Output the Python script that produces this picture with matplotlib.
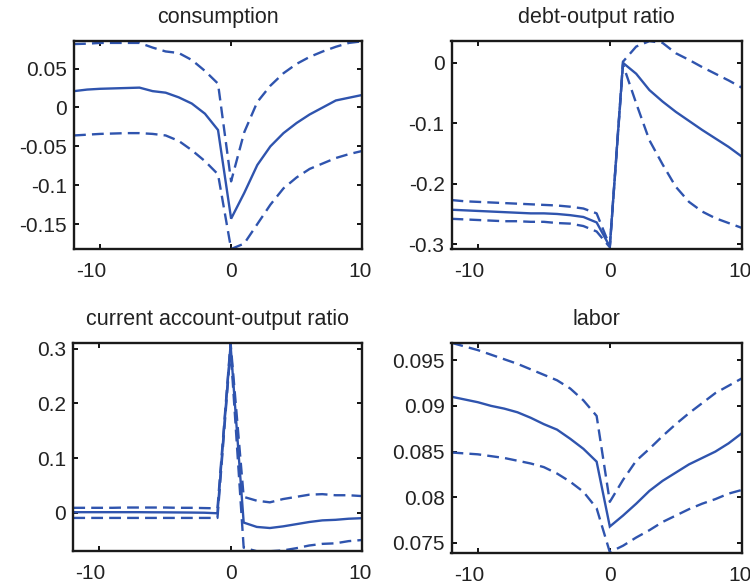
import matplotlib
matplotlib.use("Agg")
import matplotlib.pyplot as plt
from matplotlib.ticker import FuncFormatter
from matplotlib.transforms import ScaledTranslation

plt.rcParams['font.family'] = ['Liberation Sans', 'DejaVu Sans']
plt.rcParams['axes.unicode_minus'] = False

x = list(range(-12, 11))

titles = ["consumption", "debt-output ratio", "current account-output ratio", "labor"]

cons_mid = [0.021, 0.023, 0.024, 0.0245, 0.025, 0.0255, 0.021, 0.019, 0.013, 0.005, -0.008, -0.029,
            -0.143, -0.11, -0.074, -0.05, -0.033, -0.02, -0.009, 0.0, 0.009, 0.0125, 0.016]
cons_hi = [0.0815, 0.082, 0.083, 0.083, 0.083, 0.083, 0.077, 0.072, 0.070, 0.061, 0.047, 0.0306,
           -0.095, -0.032, 0.007, 0.028, 0.044, 0.056, 0.065, 0.072, 0.078, 0.083, 0.085]
cons_lo = [-0.036, -0.035, -0.034, -0.0335, -0.033, -0.033, -0.034, -0.036, -0.043, -0.055, -0.069, -0.086,
           -0.182, -0.175, -0.15, -0.125, -0.104, -0.090, -0.079, -0.072, -0.065, -0.060, -0.056]

debt_mid = [-0.243, -0.244, -0.245, -0.246, -0.247, -0.248, -0.249, -0.249, -0.250, -0.252, -0.255, -0.264,
            -0.304, 0.0, -0.018, -0.045, -0.064, -0.081, -0.096, -0.111, -0.125, -0.139, -0.155]
debt_hi = [-0.227, -0.229, -0.230, -0.231, -0.232, -0.233, -0.234, -0.235, -0.236, -0.238, -0.241, -0.249,
           -0.303, 0.002, 0.027, 0.036, 0.033, 0.016, 0.005, -0.007, -0.018, -0.029, -0.041]
debt_lo = [-0.258, -0.259, -0.260, -0.261, -0.262, -0.262, -0.263, -0.263, -0.265, -0.266, -0.270, -0.279,
           -0.305, -0.003, -0.067, -0.128, -0.168, -0.205, -0.230, -0.246, -0.257, -0.265, -0.273]

ca_mid = [0.001, 0.001, 0.001, 0.001, 0.001, 0.001, 0.0008, 0.0007, 0.0005, 0.0003, 0.0, -0.001,
          0.307, -0.018, -0.026, -0.028, -0.025, -0.021, -0.017, -0.014, -0.013, -0.011, -0.010]
ca_hi = [0.009, 0.009, 0.009, 0.009, 0.0095, 0.0095, 0.0095, 0.0095, 0.009, 0.009, 0.0085, 0.008,
         0.311, 0.029, 0.022, 0.019, 0.025, 0.029, 0.033, 0.034, 0.032, 0.032, 0.0305]
ca_lo = [-0.0095, -0.0095, -0.0095, -0.0095, -0.0095, -0.0095, -0.0095, -0.0095, -0.0095, -0.0095, -0.0095, -0.0095,
         0.300, -0.064, -0.0705, -0.0705, -0.069, -0.065, -0.060, -0.057, -0.056, -0.052, -0.050]

lab_mid = [0.0910, 0.0907, 0.0904, 0.0900, 0.0897, 0.0893, 0.0887, 0.0880, 0.0874, 0.0864, 0.0853, 0.0839,
           0.0768, 0.0780, 0.0793, 0.0807, 0.0818, 0.0827, 0.0836, 0.0843, 0.0850, 0.0859, 0.0870]
lab_hi = [0.0969, 0.0965, 0.0961, 0.0956, 0.0951, 0.0946, 0.0940, 0.0934, 0.0928, 0.0919, 0.0906, 0.0889,
          0.0795, 0.0819, 0.0840, 0.0853, 0.0867, 0.0880, 0.0892, 0.0903, 0.0914, 0.0922, 0.0930]
lab_lo = [0.0849, 0.0848, 0.0847, 0.0845, 0.0843, 0.0840, 0.0837, 0.0833, 0.0826, 0.0817, 0.0806, 0.0788,
          0.0740, 0.0747, 0.0756, 0.0764, 0.0773, 0.0780, 0.0787, 0.0793, 0.0798, 0.0804, 0.0808]

series = [(cons_mid, cons_hi, cons_lo), (debt_mid, debt_hi, debt_lo),
          (ca_mid, ca_hi, ca_lo), (lab_mid, lab_hi, lab_lo)]
ylims = [(-0.182, 0.0853), (-0.308, 0.036), (-0.0706, 0.311), (0.0739, 0.0969)]
yticks = [[-0.15, -0.1, -0.05, 0, 0.05], [-0.3, -0.2, -0.1, 0], [0, 0.1, 0.2, 0.3],
          [0.075, 0.08, 0.085, 0.09, 0.095]]
xticks = [-10, 0, 10]
xlabel_shift_px = [-9, 0, -2]

positions = [[0.0987, 0.5736, 0.384, 0.356],
             [0.602, 0.5736, 0.387, 0.356],
             [0.0977, 0.056, 0.3845, 0.357],
             [0.602, 0.053, 0.387, 0.36]]

color = '#2F54AE'
fig = plt.figure(figsize=(7.5, 5.84), dpi=100)
fmt = FuncFormatter(lambda v, p: ('%g' % round(v, 6)))

for i in range(4):
    ax = fig.add_axes(positions[i])
    mid, hi, lo = series[i]
    ax.plot(x, mid, color=color, lw=1.7, solid_joinstyle='miter')
    ax.plot(x, hi, color=color, lw=1.7, dashes=(5, 2.6))
    ax.plot(x, lo, color=color, lw=1.7, dashes=(5, 2.6))
    ax.set_xlim(-12, 10)
    ax.set_ylim(*ylims[i])
    ax.set_xticks(xticks)
    ax.set_yticks(yticks[i])
    ax.yaxis.set_major_formatter(fmt)
    ax.xaxis.set_major_formatter(fmt)
    ax.tick_params(direction='in', length=3.5, width=1.3, labelsize=15, color='black',
                   top=True, right=True, labelcolor='#222222')
    ax.tick_params(axis='y', pad=5)
    ax.tick_params(axis='x', pad=9)
    for s in ax.spines.values():
        s.set_linewidth(1.7)
        s.set_color('#1a1a1a')
    ax.set_title(titles[i], fontsize=15.5, pad=12.8, color='#222222')
    for tk, sh in zip(ax.xaxis.get_major_ticks(), xlabel_shift_px):
        if sh:
            tk.label1.set_transform(tk.label1.get_transform() +
                                    ScaledTranslation(sh / 100, 0, fig.dpi_scale_trans))

fig.savefig('out.png', dpi=100)
